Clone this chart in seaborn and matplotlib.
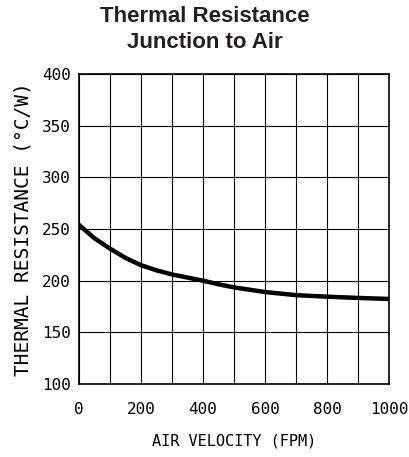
import matplotlib
matplotlib.use("Agg")
import matplotlib.pyplot as plt
import seaborn as sns
import pandas as pd

air_velocity = [0, 50, 100, 150, 200, 250, 300, 350, 400, 450, 500, 600, 700, 800, 900, 1000]
thermal_res = [254, 241, 231, 222, 215, 210, 206, 203, 200, 196.5, 193.5, 189, 186, 184.5, 183.3, 182.3]
x_ticks = [0, 200, 400, 600, 800, 1000]
y_ticks = [100, 150, 200, 250, 300, 350, 400]

sns.set_theme(style="white")
plt.rcParams['font.family'] = ['DejaVu Sans Mono']

df = pd.DataFrame({"v": air_velocity, "r": thermal_res})

fig = plt.figure(figsize=(4.09, 4.57), dpi=100)
ax = fig.add_axes([79/409, 1-384/457, 310/409, 310/457])
sns.lineplot(data=df, x="v", y="r", ax=ax, color="black", linewidth=3.2)

ax.set_xlim(0, 1000)
ax.set_ylim(100, 400)
ax.set_xticks(x_ticks)
ax.set_yticks(y_ticks)
ax.set_xticks(range(0, 1001, 100), minor=True)
ax.grid(True, which="both", axis="x", color="black", linewidth=0.8)
ax.grid(True, which="major", axis="y", color="black", linewidth=0.8)
ax.set_axisbelow(True)
for s in ax.spines.values():
    s.set_color("black")
    s.set_linewidth(1.2)
ax.tick_params(which="both", length=0, labelsize=11.5, labelcolor="black")
ax.tick_params(axis="x", pad=13)
ax.tick_params(axis="y", pad=6)
ax.set_xlabel("AIR VELOCITY (FPM)", fontsize=11, color="black", labelpad=12)
ax.set_ylabel("THERMAL RESISTANCE (°C/W)", fontsize=14, color="black", labelpad=7)

fig.text(0.5, 1-22/457, "Thermal Resistance", ha="center", va="baseline",
         fontsize=16, fontweight="bold", family=["Liberation Sans"], color="#231f20")
fig.text(0.5, 1-48/457, "Junction to Air", ha="center", va="baseline",
         fontsize=16, fontweight="bold", family=["Liberation Sans"], color="#231f20")

fig.savefig("out.png", dpi=100)
